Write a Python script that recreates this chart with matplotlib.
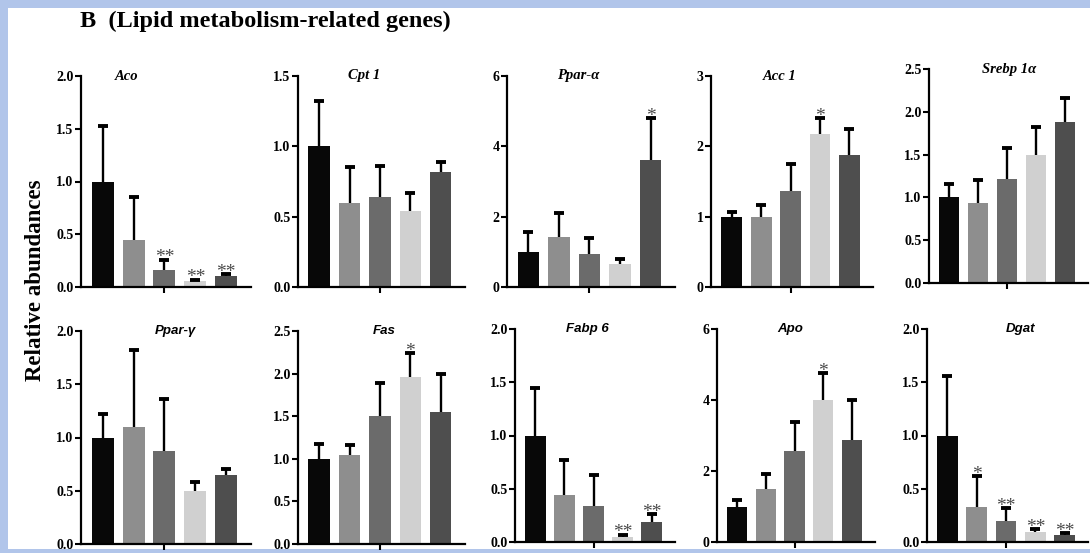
import numpy as np
import matplotlib.pyplot as plt
from matplotlib.patches import Rectangle

W, H = 1090, 553

# gene panels, row 1 then row 2
genes = ['Aco', 'Cpt 1', 'Ppar-α', 'Acc 1', 'Srebp 1α',
         'Ppar-γ', 'Fas', 'Fabp 6', 'Apo', 'Dgat']
means = [[1.00, 0.45, 0.16, 0.06, 0.10],
         [1.00, 0.60, 0.64, 0.54, 0.82],
         [1.00, 1.42, 0.95, 0.65, 3.60],
         [1.00, 1.00, 1.37, 2.17, 1.87],
         [1.00, 0.94, 1.22, 1.50, 1.88],
         [1.00, 1.10, 0.87, 0.50, 0.65],
         [1.00, 1.05, 1.50, 1.96, 1.55],
         [1.00, 0.44, 0.34, 0.05, 0.19],
         [1.00, 1.48, 2.56, 4.00, 2.88],
         [1.00, 0.33, 0.20, 0.09, 0.07]]
errors = [[0.53, 0.40, 0.10, 0.01, 0.02],
          [0.32, 0.25, 0.22, 0.13, 0.07],
          [0.55, 0.68, 0.45, 0.15, 1.20],
          [0.06, 0.16, 0.38, 0.23, 0.37],
          [0.16, 0.26, 0.36, 0.32, 0.28],
          [0.22, 0.72, 0.49, 0.08, 0.05],
          [0.17, 0.11, 0.39, 0.28, 0.45],
          [0.45, 0.33, 0.29, 0.02, 0.07],
          [0.17, 0.43, 0.82, 0.75, 1.12],
          [0.56, 0.29, 0.12, 0.03, 0.01]]
stars = [['', '', '**', '**', '**'],
         ['', '', '', '', ''],
         ['', '', '', '', '*'],
         ['', '', '', '*', ''],
         ['', '', '', '', ''],
         ['', '', '', '', ''],
         ['', '', '', '*', ''],
         ['', '', '', '**', '**'],
         ['', '', '', '*', ''],
         ['', '*', '**', '**', '**']]
y_max = [2.0, 1.5, 6, 3, 2.5, 2.0, 2.5, 2.0, 6, 2.0]
y_step = [0.5, 0.5, 2, 1, 0.5, 0.5, 0.5, 0.5, 2, 0.5]

bar_colors = ['#080808', '#8e8e8e', '#6b6b6b', '#d0d0d0', '#4e4e4e']

# panel boxes in pixels: left, top, right, bottom, title centre x
boxes = [(81, 76, 251, 287, 127), (298, 76, 465, 287, 364),
         (507, 76, 675, 287, 578), (711, 76, 873, 287, 780),
         (929, 69, 1088, 283, 1009),
         (81, 331, 251, 544, 175), (298, 331, 465, 544, 384),
         (515, 329, 675, 542, 587), (717, 329, 875, 542, 790),
         (927, 329, 1088, 542, 1021)]

fig = plt.figure(figsize=(W / 100, H / 100), dpi=100)
fig.patch.set_facecolor('#b1c5ea')
fig.add_artist(Rectangle((8 / W, 4 / H), 1 - 8 / W, 1 - 12 / H,
                         transform=fig.transFigure, facecolor='white',
                         edgecolor='none', zorder=-1))

x = np.arange(5)
for i, g in enumerate(genes):
    l, t, r, b, tx = boxes[i]
    ax = fig.add_axes([l / W, 1 - b / H, (r - l) / W, (b - t) / H])
    ax.bar(x, means[i], width=0.71, color=bar_colors, zorder=2)
    eb = ax.errorbar(x, means[i], yerr=[np.zeros(5), errors[i]], fmt='none',
                     ecolor='black', elinewidth=1.7, capsize=3.8, capthick=2.8,
                     zorder=3)
    eb[1][0].set_visible(False)  # no lower caps
    top = np.array(means[i]) + np.array(errors[i])
    for j in range(5):
        if stars[i][j]:
            ax.annotate(stars[i][j], (x[j], top[j]), xytext=(0, -2),
                        textcoords='offset points', ha='center', va='baseline',
                        fontsize=14, family='Liberation Serif', color='#4a4a4a')
    ax.set_xlim(-0.7, 4.8)
    ax.set_ylim(0, y_max[i])
    ticks = np.arange(0, y_max[i] + 1e-9, y_step[i])
    ax.set_yticks(ticks)
    if y_step[i] < 1:
        ax.set_yticklabels(['%.1f' % v for v in ticks])
    else:
        ax.set_yticklabels(['%d' % v for v in ticks])
    ax.set_xticks([2])
    ax.set_xticklabels([''])
    for lab in ax.get_yticklabels():
        lab.set_fontfamily('Liberation Serif')
        lab.set_fontweight('bold')
        lab.set_fontsize(10)
    ax.tick_params(direction='out', length=4.5, width=1.5, pad=1)
    ax.spines['top'].set_visible(False)
    ax.spines['right'].set_visible(False)
    ax.spines['left'].set_linewidth(1.6)
    ax.spines['bottom'].set_linewidth(1.6)
    if i < 5:
        fam = 'Liberation Serif'
        fs = 10.5
    else:
        fam = 'Liberation Sans'
        fs = 9.5
    ax.text((tx - l) / (r - l), 1.0, g, transform=ax.transAxes, ha='center',
            va='center', fontsize=fs, family=fam, fontweight='bold',
            style='italic')

fig.text(80 / W, 1 - 21 / H, 'B  (Lipid metabolism-related genes)',
         ha='left', va='center', fontsize=17.5, family='Liberation Serif',
         fontweight='bold')
fig.text(36 / W, 1 - 280 / H, 'Relative abundances', rotation=90,
         ha='center', va='center', fontsize=16.5, family='Liberation Serif',
         fontweight='bold')

fig.savefig('out.png', dpi=100, facecolor=fig.get_facecolor())
